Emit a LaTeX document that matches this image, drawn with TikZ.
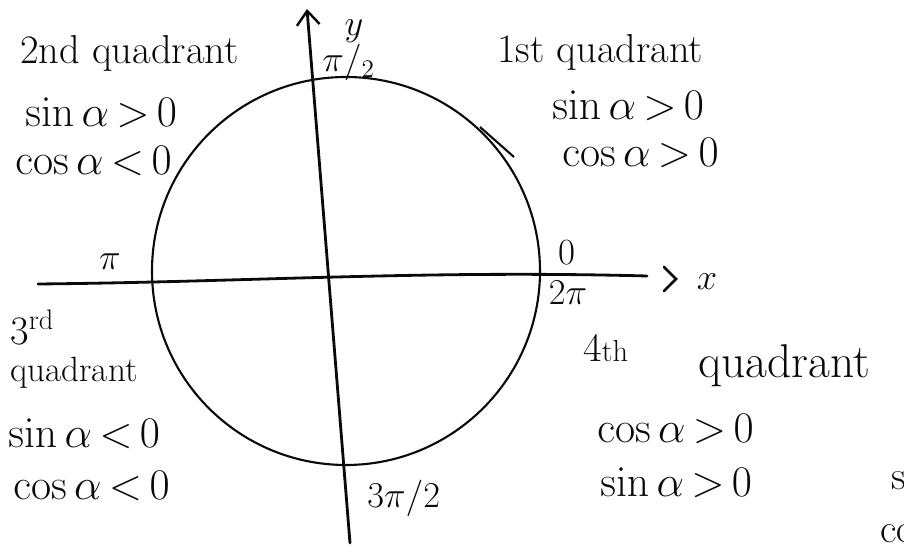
\documentclass[tikz,border=0pt]{standalone}
\usepackage{xcolor}
\usepackage{amsmath}
\usepackage{tikz}
\usetikzlibrary{arrows.meta, positioning, calc}
\definecolor{myink}{RGB}{10,10,10}
\newcommand{\sgn}[3]{$\mathrm{#1}\,\alpha\,{#2}\,#3$}
\tikzset{
  note/.style={anchor=base west, inner sep=0pt,
    font=\fontsize{23}{27}\selectfont, text=myink},
  smallnote/.style={note, font=\fontsize{20}{24}\selectfont},
  bignote/.style={note, font=\fontsize{27}{31}\selectfont},
  tick/.style={anchor=base, inner sep=0pt,
    font=\fontsize{21}{24}\selectfont, text=myink},
  axis/.style={line width=1.6pt, color=myink, line cap=round},
  rim/.style={line width=1.2pt, color=myink},
  arrow/.style={axis, -{Straight Barb[length=8pt, width=13pt, line width=1.4pt]}}
}

\begin{document}
\begin{tikzpicture}[x=0.02cm, y=-0.02cm]
  \useasboundingbox (0,0) rectangle (904,546);

  \coordinate (c) at (346,271);
  \coordinate (xl) at (38,284);
  \coordinate (xr) at (647,276);
  \coordinate (xh) at (664,279);
  \coordinate (yb) at (350,543);
  \coordinate (yt) at (307,9);

  \draw[rim] (c) circle[radius=194];
  \draw[rim] (480,127) -- (514,157);
  \draw[axis] (xl) .. controls (250,282) and (420,270) .. (xr);
  \draw[axis] ($(xh)+(0,-12)$) -- ($(xh)+(12,0)$) -- ($(xh)+(0,12)$);
  \draw[arrow] (yb) -- (yt);

  \node[tick] (pi) at (110,270) {$\pi$};
  \node[tick] (zero) at (567,265) {0};
  \node[tick] (twopi) at (568,305) {$2\pi$};
  \node[tick, anchor=base west] (threehalf) at (367,508) {$3\pi/2$};
  \node[tick, anchor=base west] (half) at (322,72) {$\pi/_{2}$};
  \node[tick] (ylab) at (354,36) {$y$};
  \node[tick] (xlab) at (707,290) {$x$};

  \node[note] (q2t) at (20,64) {2nd quadrant};
  \node[note] (q2s) at (25,127) {\sgn{sin}{>}{0}};
  \node[note] (q2c) at (15,175) {\sgn{cos}{<}{0}};

  \node[note] (q1t) at (497,63) {1st quadrant};
  \node[note] (q1s) at (552,120) {\sgn{sin}{>}{0}};
  \node[note] (q1c) at (562,167) {\sgn{cos}{>}{0}};

  \node[note] (q3t) at (10,345) {3\textsuperscript{rd}};
  \node[smallnote] (q3q) at (10,382) {quadrant};
  \node[note] (q3s) at (8,448) {\sgn{sin}{<}{0}};
  \node[note] (q3c) at (13,500) {\sgn{cos}{<}{0}};

  \node[note] (q4t) at (583,362) {4{\LARGE th}};
  \node[bignote] (q4q) at (698,378) {quadrant};
  \node[note] (q4c) at (597,443) {\sgn{cos}{>}{0}};
  \node[note] (q4s) at (600,497) {\sgn{sin}{>}{0}};

  \node[note] (cuts) at (891,490) {s};
  \node[note] (cutc) at (880,543) {co};
\end{tikzpicture}
\end{document}
